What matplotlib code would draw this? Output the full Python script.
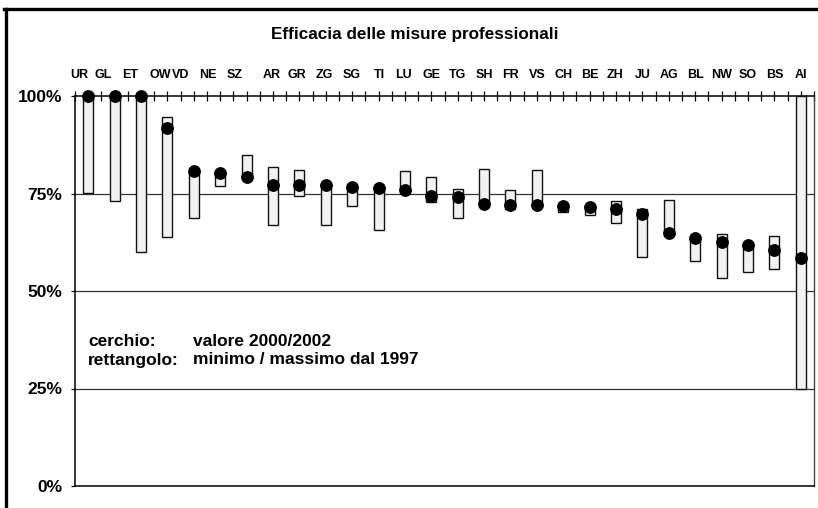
import matplotlib
matplotlib.use("Agg")
import matplotlib.pyplot as plt
from matplotlib.lines import Line2D
from matplotlib.transforms import ScaledTranslation
import numpy as np

plt.rcParams['font.family'] = ['Liberation Sans', 'DejaVu Sans']

categories = ["UR", "GL", "ET", "OW", "VD", "NE", "SZ", "AR", "GR", "ZG", "SG", "TI", "LU", "GE",
              "TG", "SH", "FR", "VS", "CH", "BE", "ZH", "JU", "AG", "BL", "NW", "SO", "BS", "AI"]
value_2002 = [100, 100, 100, 91.7, 80.8, 80.2, 79.2, 77.1, 77.1, 77.1, 76.6, 76.3, 76.0, 74.4,
              74.2, 72.3, 72.1, 72.1, 71.9, 71.5, 71.0, 69.7, 64.8, 63.7, 62.6, 61.7, 60.4, 58.5]
min_1997 = [75.2, 73.2, 60.1, 63.8, 68.8, 76.9, 79.0, 66.8, 74.3, 66.8, 71.9, 65.6, 76.0, 72.9,
            68.8, 72.3, 71.0, 72.1, 70.3, 69.5, 67.5, 58.7, 64.8, 57.6, 53.3, 55.0, 55.6, 25.0]
max_1997 = [100, 100, 100, 94.7, 80.8, 80.5, 85.0, 81.9, 81.1, 77.1, 76.6, 76.3, 80.7, 79.2,
            76.1, 81.4, 75.8, 80.9, 72.0, 71.8, 73.2, 71.0, 73.4, 63.7, 64.7, 61.7, 64.2, 100]
y_ticks = [0, 25, 50, 75, 100]
y_labels = ["0%", "25%", "50%", "75%", "100%"]

# horizontal shift (pixels) of the hand-placed category labels in the original
label_shift_px = [-8.5, -11.5, -11, -7, -13, -12, -12, -1.5, -2.5, -1, -0.5, 1, -1, 0,
                  0, 0, 0, 0, 0, 0, -1, 0, 0, 0, 0, 0, 0, 0]

fig = plt.figure(figsize=(8.18, 5.08), dpi=100)
ax = fig.add_axes([75 / 818, 1 - 486 / 508, (814 - 75) / 818, (486 - 96) / 508])

x = np.arange(len(categories))
lo = np.array(min_1997)
hi = np.array(max_1997)
ax.bar(x, hi - lo, bottom=lo, width=0.38, color="#f2f2f2", edgecolor="#111111",
       linewidth=1.0, zorder=3, clip_on=False)
ax.plot(x, value_2002, 'o', color="black", markersize=8.2, zorder=4, clip_on=False)

ax.set_xlim(-0.5, len(categories) - 0.5)
ax.set_ylim(0, 100)

for g in [25, 50, 75]:
    ax.axhline(g, color="#333333", linewidth=0.9, zorder=1)

ax.set_yticks(y_ticks)
ax.set_yticklabels(y_labels, fontsize=12.5, fontweight="bold")
ax.tick_params(axis="y", direction="out", length=3, width=0.9, pad=6)

ax.xaxis.tick_top()
ax.set_xticks(x)
ax.set_xticklabels(categories, fontsize=9, fontweight="bold")
ax.set_xticks(np.arange(len(categories) + 1) - 0.5, minor=True)
ax.tick_params(axis="x", which="both", direction="inout", length=7, width=0.9, pad=7.5)
ax.tick_params(axis="x", which="minor", top=True, bottom=False)
for lab, dx in zip(ax.get_xticklabels(), label_shift_px):
    lab.set_transform(lab.get_transform() + ScaledTranslation(dx / 100, 0, fig.dpi_scale_trans))

for s in ["left", "top", "bottom"]:
    ax.spines[s].set_color("black")
    ax.spines[s].set_linewidth(1.1)
ax.spines["right"].set_color("#444444")
ax.spines["right"].set_linewidth(1.0)

fig.text(415 / 818, 1 - 34 / 508, "Efficacia delle misure professionali", ha="center",
         va="center", fontsize=12.3, fontweight="bold")

fs = 12.5
fig.text(88 / 818, 1 - 341 / 508, "cerchio:", ha="left", va="center", fontsize=fs, fontweight="bold")
fig.text(193 / 818, 1 - 341 / 508, "valore 2000/2002", ha="left", va="center", fontsize=fs, fontweight="bold")
fig.text(88 / 818, 1 - 360 / 508, "rettangolo:", ha="left", va="center", fontsize=fs, fontweight="bold")
fig.text(193 / 818, 1 - 360 / 508, "minimo / massimo dal 1997", ha="left", va="center", fontsize=fs, fontweight="bold")

# outer chart frame (left and top visible)
fig.add_artist(Line2D([5.5 / 818, 5.5 / 818], [0, 1 - 8.5 / 508], transform=fig.transFigure,
                      color="black", linewidth=2.4))
fig.add_artist(Line2D([4.3 / 818, 1], [1 - 8.5 / 508, 1 - 8.5 / 508], transform=fig.transFigure,
                      color="black", linewidth=2.4))

fig.savefig("out.png", dpi=100)
